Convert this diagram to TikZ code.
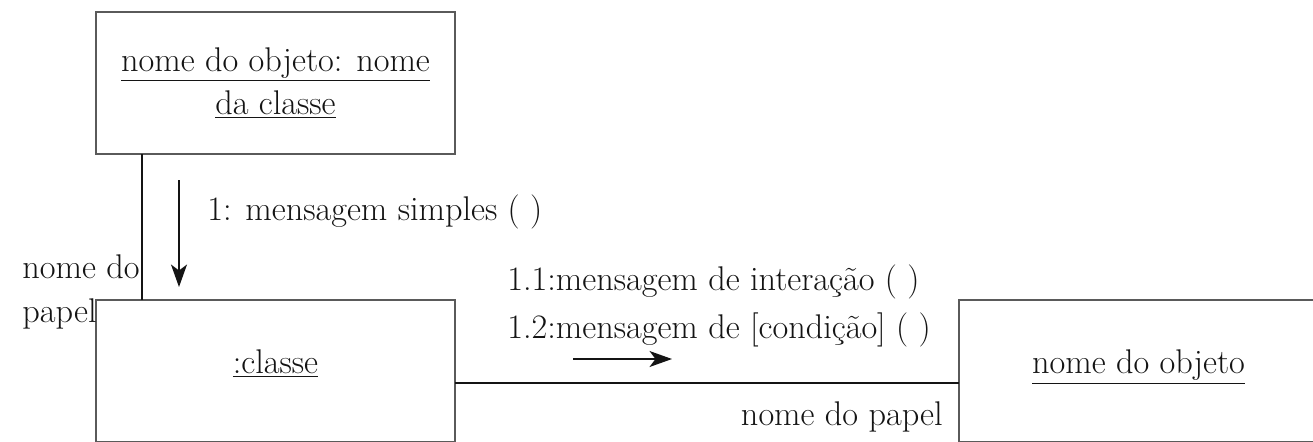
\documentclass[tikz,border=0pt]{standalone}
\usepackage{fontspec}
\usetikzlibrary{arrows.meta, positioning, calc}
\definecolor{boxgray}{RGB}{90,90,90}
\definecolor{inkblack}{RGB}{20,20,20}

\begin{document}
\begin{tikzpicture}[
        node distance=2.92cm,
        obj/.style={rectangle, draw=boxgray, line width=1pt, minimum width=7.18cm, minimum height=2.84cm, align=center, outer sep=0pt, font=\fontsize{19.5}{25}\selectfont, text=inkblack},
        objbaixo/.style={obj, text depth=0.36cm},
        lbl/.style={inner sep=0pt, align=left, font=\fontsize{19.5}{25.5}\selectfont, text=inkblack},
        link/.style={draw=inkblack, line width=1pt},
        msgarrow/.style={-{Stealth[length=0.45cm, width=0.32cm, inset=0.12cm]}, line width=0.9pt, inkblack}
    ]
        \useasboundingbox (-1.92,0.24) rectangle (24.34,-8.58);

        \node[obj, anchor=north west] (objeto) at (0,0) {\underline{nome do objeto: nome}\\\underline{da classe}};
        \node[objbaixo, below=of objeto] (classe) {\underline{:classe}};
        \node[objbaixo, right=10.08cm of classe] (outro) {\underline{nome do objeto}};

        \draw[link] ([xshift=0.92cm]objeto.south west) -- ([xshift=0.92cm]classe.north west);
        \draw[link] ([yshift=-0.24cm]classe.east) -- ([yshift=-0.24cm]outro.west);

        % mensagem 1
        \coordinate (m1a) at ($(objeto.south west)+(1.66,-0.52)$);
        \coordinate (m1b) at ($(classe.north west)+(1.66,0.26)$);
        \draw[msgarrow] (m1a) -- (m1b);
        \node[lbl, anchor=west] (m1) at ($(m1a)+(0.56,-0.64)$) {1: mensagem simples ( )};

        % mensagens 1.1 e 1.2
        \coordinate (m2a) at ($(classe.north east)+(2.36,-1.18)$);
        \coordinate (m2b) at ($(classe.north east)+(4.34,-1.18)$);
        \draw[msgarrow] (m2a) -- (m2b);
        \node[lbl, anchor=west, font=\fontsize{19.5}{27}\selectfont] (m2) at ($(classe.north east)+(1.04,-0.12)$) {1.1:mensagem de interação ( )\\1.2:mensagem de [condição] ( )};

        % papeis
        \node[lbl, anchor=east] (papel1) at ($(classe.north west)+(0.88,0.16)$) {nome do\\papel};
        \node[lbl, anchor=east] (papel2) at ($(outro.north west)+(-0.32,-2.34)$) {nome do papel};
    \end{tikzpicture}
\end{document}
